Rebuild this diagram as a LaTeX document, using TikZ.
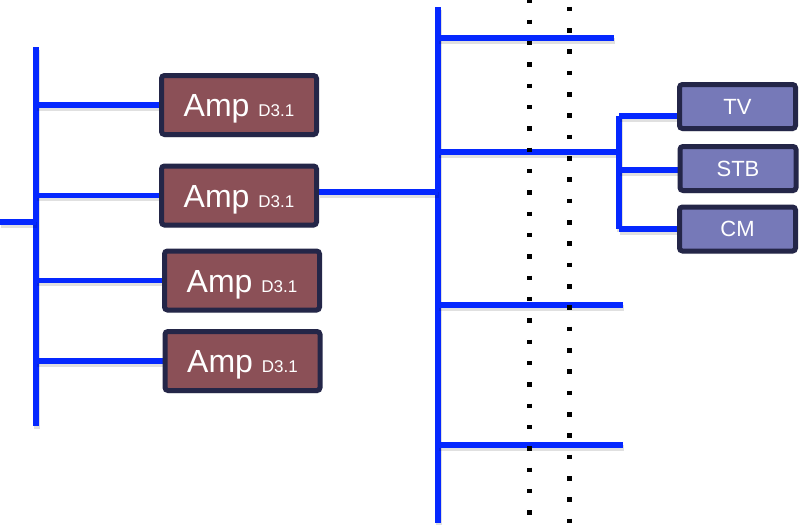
\documentclass[tikz,border=0pt]{standalone}
\usepackage{fontspec}
\setmainfont{Liberation Sans}
\usetikzlibrary{backgrounds,shadows}
\definecolor{wireblue}{RGB}{5,40,255}
\definecolor{ampfill}{RGB}{139,80,87}
\definecolor{devfill}{RGB}{118,121,184}
\definecolor{boxline}{RGB}{36,38,72}
\tikzset{
  wire/.style={draw=wireblue, line width=5.5pt,
    preaction={draw=black, opacity=0.12, line width=5.5pt,
      transform canvas={shift={(1pt,-3pt)}}}},
  basebox/.style={draw=boxline, line width=5pt, rounded corners=3pt,
    inner sep=0pt, text=white, anchor=center,
    drop shadow={shadow xshift=1pt, shadow yshift=-3pt, opacity=0.15}},
  ampbox/.style={basebox, fill=ampfill, minimum width=155pt, minimum height=59pt,
    font=\fontsize{32}{32}\selectfont, text height=23pt, text depth=0pt},
  devbox/.style={basebox, fill=devfill, minimum width=116pt, minimum height=44pt,
    font=\fontsize{22}{22}\selectfont, text height=15.8pt, text depth=0pt},
  dotline/.style={draw=black, line width=4.5pt, dash pattern=on 4.5pt off 16.83pt}
}
\newcommand{\ampsub}{{\fontsize{17}{17}\selectfont D3.1}}
\begin{document}
\begin{tikzpicture}[x=1pt, y=-1pt]
\useasboundingbox (0,0) rectangle (809,525);
% amplifier boxes
\node[ampbox] (a1) at (239,105) {Amp \ampsub};
\node[ampbox] (a2) at (239,195.5) {Amp \ampsub};
\node[ampbox] (a3) at (242,280.5) {Amp \ampsub};
\node[ampbox] (a4) at (242.5,361) {Amp \ampsub};
% device boxes
\node[devbox] (tv) at (737.5,106.5) {TV};
\node[devbox] (stb) at (738,168.5) {STB};
\node[devbox] (cm) at (737.5,229) {CM};
% bus coordinates
\coordinate (lt) at (36,47);
\coordinate (lb) at (36,426);
\coordinate (lin) at (0,222);
\coordinate (rt) at (438,7);
\coordinate (rb) at (438,523);
\coordinate (r1) at (614,38);
\coordinate (r2) at (438,152);
\coordinate (r3) at (623,305);
\coordinate (r4) at (623,445);
\coordinate (st) at (619,116);
\coordinate (sm) at (619,170);
\coordinate (sb) at (619,229);
\begin{scope}[on background layer]
\draw[wire] (lt) -- (lb);
\draw[wire] (lin) -- (lin -| lt);
\draw[wire] (a1.west) -- (a1.west -| lt);
\draw[wire] (a2.west) -- (a2.west -| lt);
\draw[wire] (a3.west) -- (a3.west -| lt);
\draw[wire] (a4.west) -- (a4.west -| lt);
\draw[wire] (rt) -- (rb);
\draw[wire] ([yshift=3.5pt]a2.east) -- ([yshift=3.5pt]a2.east -| rt);
\draw[wire] (r1 -| rt) -- (r1);
\draw[wire] (r2) -- (r2 -| st);
\draw[wire] (r3 -| rt) -- (r3);
\draw[wire] (r4 -| rt) -- (r4);
\draw[wire] (st) -- (sb);
\draw[wire] (st) -- (st -| tv.west);
\draw[wire] (sm) -- (sm -| stb.west);
\draw[wire] (sb) -- (sb -| cm.west);
\end{scope}
% dotted lines
\coordinate (d1t) at (529.3,-1.75);
\coordinate (d1b) at (529.3,527);
\coordinate (d2t) at (569.3,6.75);
\coordinate (d2b) at (569.3,527);
\draw[dotline] (d1t) -- (d1b);
\draw[dotline] (d2t) -- (d2b);
\end{tikzpicture}
\end{document}
